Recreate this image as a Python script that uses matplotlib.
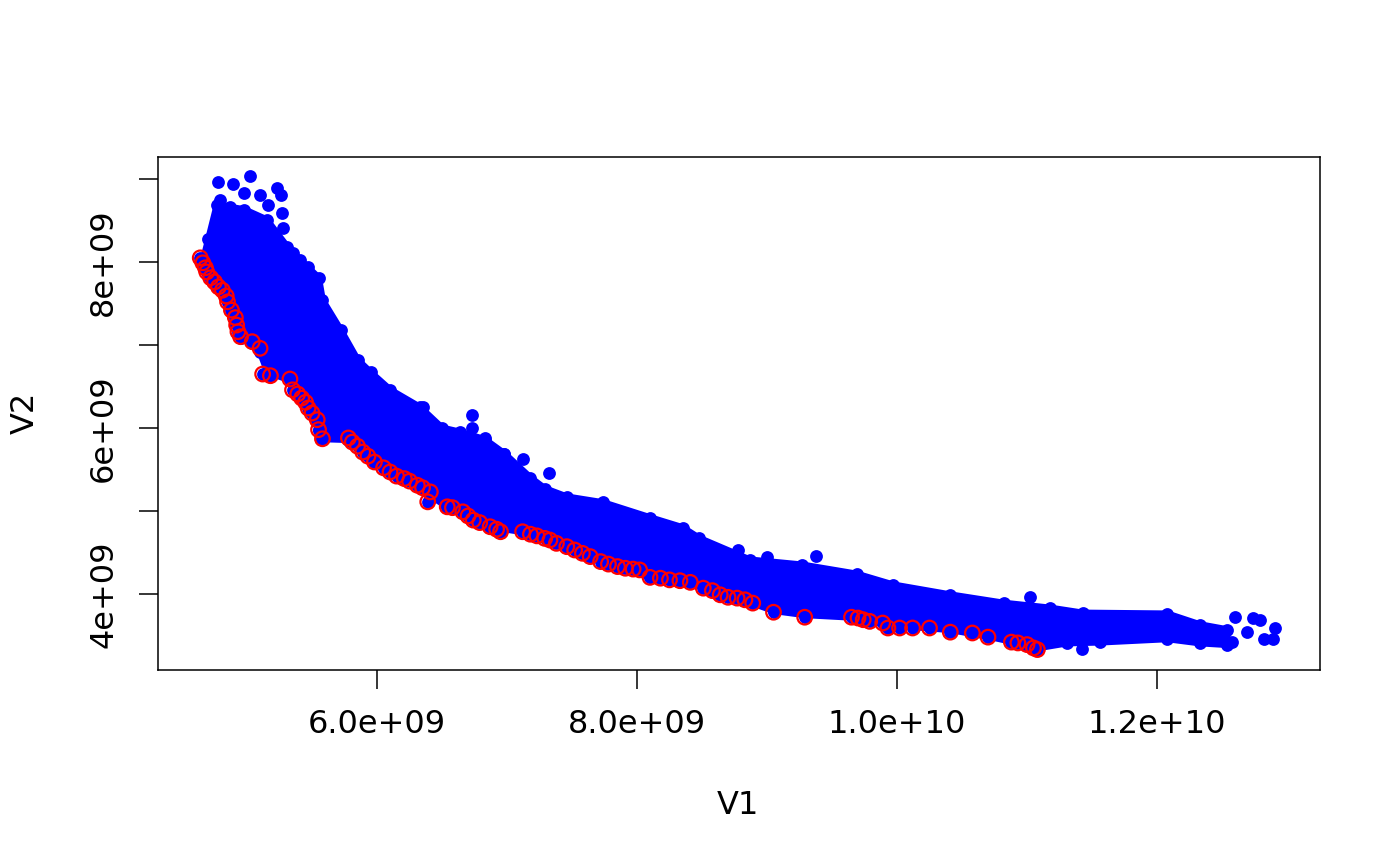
import matplotlib
matplotlib.use('Agg')
import matplotlib.pyplot as plt
import numpy as np

#-------Dados (em unidades de 1e9)-------#

# contorno superior da nuvem densa de pontos azuis
borda_sup_x = [4.77, 4.87, 4.98, 5.15, 5.31, 5.41, 5.55, 5.58, 5.72, 5.85, 5.95, 6.10,
               6.33, 6.50, 6.64, 6.83, 6.98, 7.18, 7.29, 7.46, 7.74, 8.10, 8.35, 8.48,
               8.87, 9.27, 9.69, 9.97, 10.41, 10.82, 11.18, 11.43, 12.08, 12.33, 12.54]
borda_sup_y = [8.69, 8.66, 8.63, 8.51, 8.18, 8.02, 7.81, 7.54, 7.18, 6.82, 6.67, 6.46,
               6.25, 6.00, 5.95, 5.86, 5.69, 5.40, 5.27, 5.17, 5.10, 4.92, 4.80, 4.67,
               4.41, 4.35, 4.24, 4.11, 3.99, 3.89, 3.83, 3.77, 3.76, 3.63, 3.57]

# contorno inferior da nuvem
borda_inf_x = [4.66, 4.72, 4.81, 4.85, 4.91, 4.95, 5.04, 5.10, 5.16, 5.33, 5.41, 5.48,
               5.55, 5.58, 5.78, 5.89, 6.05, 6.18, 6.31, 6.41, 6.54, 6.66, 6.87, 7.12,
               7.33, 7.58, 7.85, 8.10, 8.41, 8.64, 8.89, 9.05, 9.29, 9.65, 9.93, 10.41,
               10.70, 10.88, 11.08, 11.31, 11.56, 12.08, 12.33, 12.54]
borda_inf_y = [8.00, 7.78, 7.66, 7.52, 7.27, 7.08, 7.02, 6.92, 6.67, 6.58, 6.37, 6.22,
               5.98, 5.87, 5.86, 5.71, 5.52, 5.40, 5.31, 5.19, 5.05, 4.98, 4.81, 4.75,
               4.65, 4.49, 4.34, 4.20, 4.14, 3.99, 3.89, 3.80, 3.75, 3.72, 3.63, 3.57,
               3.49, 3.43, 3.35, 3.41, 3.42, 3.46, 3.41, 3.39]

# pontos azuis soltos fora da nuvem
soltos_x = [4.78, 4.89, 5.02, 4.98, 5.10, 5.16, 5.23, 5.26, 5.27, 5.28, 4.79, 4.70,
            5.35, 5.47, 6.35, 6.73, 6.73, 6.83, 6.98, 7.12, 7.32, 7.74, 8.78, 9.00,
            9.38, 11.02, 11.42, 12.60, 12.74, 12.79, 12.91, 12.89, 12.82, 12.69, 12.58]
soltos_y = [8.96, 8.94, 9.04, 8.83, 8.81, 8.69, 8.89, 8.81, 8.59, 8.41, 8.75, 8.28,
            8.11, 7.94, 6.25, 6.16, 6.00, 5.88, 5.69, 5.63, 5.46, 5.11, 4.53, 4.45,
            4.46, 3.96, 3.34, 3.72, 3.71, 3.69, 3.59, 3.46, 3.46, 3.54, 3.42]

# fronteira (circulos vermelhos)
fronteira_x = [4.64, 4.66, 4.68, 4.69, 4.72, 4.75, 4.78, 4.81, 4.84, 4.85, 4.88, 4.91,
               4.92, 4.93, 4.95, 5.04, 5.10, 5.12, 5.18, 5.33, 5.35, 5.39, 5.42, 5.45,
               5.47, 5.50, 5.54, 5.55, 5.58, 5.78, 5.81, 5.85, 5.89, 5.93, 5.98, 6.05,
               6.10, 6.15, 6.21, 6.25, 6.31, 6.35, 6.41, 6.39, 6.54, 6.58, 6.66, 6.70,
               6.74, 6.79, 6.87, 6.92, 6.95, 7.12, 7.18, 7.23, 7.29, 7.33, 7.38, 7.46,
               7.52, 7.58, 7.64, 7.72, 7.78, 7.85, 7.91, 7.97, 8.02, 8.10, 8.18, 8.25,
               8.33, 8.41, 8.51, 8.58, 8.64, 8.70, 8.77, 8.83, 8.89, 9.05, 9.29, 9.65,
               9.70, 9.74, 9.79, 9.89, 9.93, 10.02, 10.12, 10.25, 10.41, 10.58, 10.70,
               10.88, 10.93, 11.00, 11.05, 11.08]
fronteira_y = [8.05, 7.99, 7.93, 7.88, 7.81, 7.76, 7.70, 7.66, 7.59, 7.52, 7.42, 7.33,
               7.24, 7.16, 7.10, 7.04, 6.96, 6.65, 6.63, 6.59, 6.46, 6.41, 6.36, 6.31,
               6.24, 6.18, 6.10, 5.98, 5.87, 5.88, 5.83, 5.78, 5.71, 5.66, 5.59, 5.52,
               5.47, 5.42, 5.39, 5.36, 5.31, 5.28, 5.23, 5.11, 5.05, 5.04, 4.99, 4.94,
               4.89, 4.86, 4.81, 4.78, 4.75, 4.75, 4.72, 4.70, 4.67, 4.65, 4.61, 4.57,
               4.53, 4.49, 4.45, 4.39, 4.36, 4.33, 4.31, 4.30, 4.29, 4.20, 4.19, 4.17,
               4.16, 4.14, 4.07, 4.04, 3.99, 3.96, 3.95, 3.93, 3.89, 3.78, 3.72, 3.72,
               3.71, 3.69, 3.67, 3.65, 3.59, 3.59, 3.59, 3.59, 3.54, 3.53, 3.48,
               3.42, 3.41, 3.39, 3.35, 3.33]

x_ticks = [6e9, 8e9, 1e10, 1.2e10]
x_tick_labels = ['6.0e+09', '8.0e+09', '1.0e+10', '1.2e+10']
y_ticks = [4e9, 5e9, 6e9, 7e9, 8e9, 9e9]
y_tick_labels = ['4e+09', '', '6e+09', '', '8e+09', '']

ESCALA = 1e9
AZUL = '#0000FF'
VERMELHO = '#FF0000'
FONTE = 23

#----------Main----------#

def main():
    fig = plt.figure(figsize=(14, 8.66), dpi=100)
    ax = fig.add_axes([158 / 1400, 1 - 670 / 866, (1320 - 158) / 1400, (670 - 157) / 866])

    # nuvem densa como poligono
    poly_x = np.concatenate([borda_inf_x, borda_sup_x[::-1]]) * ESCALA
    poly_y = np.concatenate([borda_inf_y, borda_sup_y[::-1]]) * ESCALA
    ax.fill(poly_x, poly_y, color=AZUL, lw=5, joinstyle='round', zorder=1)

    # pontos nas bordas para o contorno irregular
    ax.scatter(poly_x, poly_y, s=85, color=AZUL, lw=0, zorder=2)

    fx = np.array(fronteira_x) * ESCALA
    fy = np.array(fronteira_y) * ESCALA
    ax.scatter(np.array(soltos_x) * ESCALA, np.array(soltos_y) * ESCALA,
               s=85, color=AZUL, lw=0, zorder=2)
    ax.scatter(fx, fy, s=85, color=AZUL, lw=0, zorder=2)
    ax.scatter(fx, fy, s=110, facecolors='none', edgecolors=VERMELHO, lw=1.6, zorder=3)

    ax.set_xlim(4.315e9, 13.254e9)
    ax.set_ylim(3.084e9, 9.265e9)

    ax.set_xticks(x_ticks)
    ax.set_xticklabels(x_tick_labels)
    ax.set_yticks(y_ticks)
    ax.set_yticklabels(y_tick_labels, rotation=90, va='center')
    ax.tick_params(axis='both', direction='out', length=14, width=1.1,
                   labelsize=FONTE, pad=14)

    for spine in ax.spines.values():
        spine.set_linewidth(1.1)

    fig.text(738 / 1400, 1 - 805 / 866, 'V1', ha='center', va='center', fontsize=FONTE)
    fig.text(25 / 1400, 1 - 413 / 866, 'V2', ha='center', va='center',
             fontsize=FONTE, rotation=90)

    fig.savefig('out.png', dpi=100)

if __name__ == '__main__':
    main()
